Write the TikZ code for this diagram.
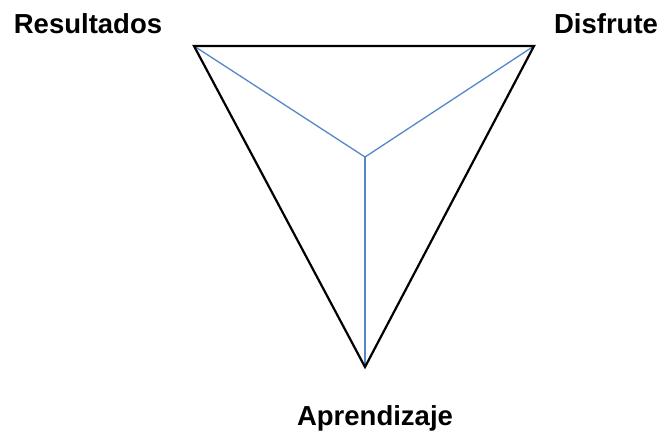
\documentclass[tikz,border=0pt]{standalone}
\usepackage{fontspec}
\setmainfont{Liberation Sans}
\usepackage{tikz}
\usetikzlibrary{positioning}
\definecolor{lineblue}{RGB}{85,135,200}

\begin{document}
\begin{tikzpicture}[
    x=1pt, y=-1pt,
    label/.style={font=\fontsize{27.5}{33}\selectfont\bfseries, inner sep=0pt, anchor=base},
    edge/.style={line width=2.2pt, black, line join=miter},
    spoke/.style={line width=1.3pt, lineblue},
]
\useasboundingbox (0,0) rectangle (664,434);

% Corners of the triangle
\coordinate (res) at (194,46);
\coordinate (dis) at (534,46);
\coordinate (apr) at (365,367);
\coordinate (mid) at (365,157);

% Labels
\node[label] (resl) at (88,33) {Resultados};
\node[label] (disl) at (606,33) {Disfrute};
\node[label] (aprl) at (375,425) {Aprendizaje};

% Spokes
\draw[spoke] (res) -- (mid);
\draw[spoke] (dis) -- (mid);
\draw[spoke] (apr) -- (mid);

% Outline
\draw[edge] (res) -- (dis) -- (apr) -- cycle;
\end{tikzpicture}
\end{document}
